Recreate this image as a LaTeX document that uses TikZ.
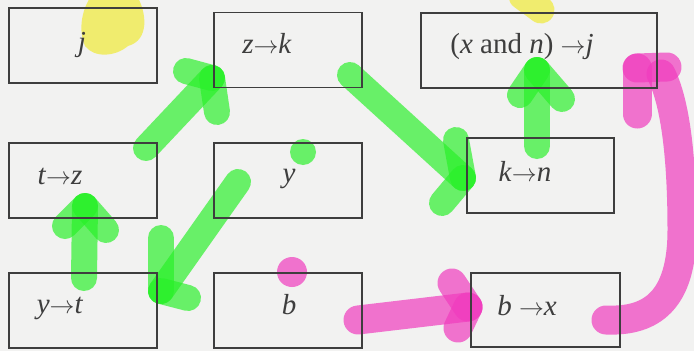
\documentclass[tikz,border=0pt]{standalone}
\usepackage{fontspec}
\setmainfont{Liberation Serif}
\newcommand{\harr}{{\fontsize{24}{28}\selectfont$\mathord{\to}$}}
\definecolor{paper}{RGB}{242,242,241}
\definecolor{ink}{RGB}{62,62,62}
\definecolor{hgreen}{RGB}{40,240,40}
\definecolor{hpink}{RGB}{240,60,190}
\definecolor{hyellow}{RGB}{240,235,60}
\begin{document}
\begin{tikzpicture}[x=1pt,y=-1pt,
  box/.style={draw=ink, line width=1.5pt, minimum width=148pt, minimum height=75pt, inner sep=0pt},
  lbl/.style={text=ink, font=\fontsize{29}{34}\selectfont, inner sep=0pt, anchor=base},
  gr/.style={draw=hgreen, opacity=0.68, line width=26pt, line cap=round},
  grdot/.style={fill=hgreen, opacity=0.68},
  pk/.style={draw=hpink, opacity=0.7, line width=29pt, line cap=round, line join=round},
  pkdot/.style={fill=hpink, opacity=0.7},
  yl/.style={hyellow, opacity=0.72},
  ]
\fill[paper] (0,0) rectangle (694,351);
\useasboundingbox (0,0) rectangle (694,351);

% ---------- highlighter strokes (named end points) ----------
% yellow
\fill[yl] (90,-2) -- (138,-2) .. controls (146,12) and (150,40) .. (128,46)
  .. controls (115,57) and (94,58) .. (85,46) .. controls (78,30) and (82,10) .. (90,-2) -- cycle;
\coordinate (y2a) at (522,-4); \coordinate (y2b) at (541,10);
\draw[yl, line width=27pt, line cap=round] (y2a) -- (y2b);

% green 1 : t->z box up to z->k
\coordinate (g1a) at (146,148); \coordinate (g1t) at (212,78);
\coordinate (g1l) at (186,71);  \coordinate (g1d) at (217,112);
\draw[gr] (g1a) -- (g1t); \draw[gr] (g1l) -- (g1t); \draw[gr] (g1t) -- (g1d);

% green 2 : z->k down to k->n
\coordinate (g2a) at (350,75); \coordinate (g2t) at (463,178);
\coordinate (g2u) at (456,140); \coordinate (g2d) at (442,203);
\draw[gr] (g2a) -- (g2t); \draw[gr] (g2u) -- (g2t); \draw[gr] (g2t) -- (g2d);

% green 3 : k->n up to (x and n)->j
\coordinate (g3a) at (537,146); \coordinate (g3t) at (537,70);
\coordinate (g3l) at (520,95);  \coordinate (g3r) at (562,99);
\draw[gr] (g3a) -- (g3t); \draw[gr] (g3l) -- (g3t); \draw[gr] (g3t) -- (g3r);

% green 4 : y->t up to t->z
\coordinate (g4a) at (84,278); \coordinate (g4t) at (85,206);
\coordinate (g4l) at (65,226); \coordinate (g4r) at (106,230);
\draw[gr] (g4a) -- (g4t); \draw[gr] (g4l) -- (g4t); \draw[gr] (g4t) -- (g4r);

% green 5 : y down to y->t
\coordinate (g5a) at (238,182); \coordinate (g5t) at (161,291);
\coordinate (g5u) at (161,238); \coordinate (g5r) at (188,298);
\draw[gr] (g5a) -- (g5t); \draw[gr] (g5u) -- (g5t); \draw[gr] (g5t) -- (g5r);

% green dot
\coordinate (g6) at (303,152);
\fill[grdot] (g6) circle (13);

% pink dot
\coordinate (p1) at (292,272);
\fill[pkdot] (p1) circle (15);

% pink 2 : b to b->x
\coordinate (p2a) at (358,320); \coordinate (p2t) at (468,307);
\coordinate (p2u) at (452,283); \coordinate (p2d) at (458,328);
\draw[pk] (p2a) -- (p2t); \draw[pk] (p2u) -- (p2t); \draw[pk] (p2t) -- (p2d);

% pink 3 : b->x round to (x and n)->j
\coordinate (p3a) at (606,320); \coordinate (p3t) at (661,74);
\coordinate (p3h) at (637,68); \coordinate (p3r) at (667,67); \coordinate (p3d) at (637,114);
\draw[pk] (p3a) .. controls (652,322) and (682,300) .. (682,230)
  .. controls (682,150) and (674,100) .. (p3t);
\draw[pk] (p3h) -- (p3r); \draw[pk] (p3h) -- (p3d);

% ---------- boxes ----------
\node[box] (bj)   at (83,45.5) {};
\node[box] (bzk)  at (288,50) {};
\node[box, minimum width=236pt] (bxnj) at (539,50.5) {};
\node[box] (btz)  at (83,180.5) {};
\node[box] (by)   at (288,180.5) {};
\node[box, minimum width=147pt] (bkn)  at (540.5,175.5) {};
\node[box] (byt)  at (83,310.5) {};
\node[box] (bb)   at (288,310.5) {};
\node[box, minimum width=149pt, minimum height=74pt] (bbx)  at (545.5,310) {};

% ---------- labels ----------
\node[lbl] (tj)   at (82,51)   {\textit{j}};
\node[lbl] (tzk)  at (267,53)  {\textit{z}\harr\textit{k}};
\node[lbl] (txnj) at (522,53)  {(\textit{x} and \textit{n}) \harr\textit{j}};
\node[lbl] (ttz)  at (60,184)  {\textit{t}\harr\textit{z}};
\node[lbl] (ty)   at (289,182) {\textit{y}};
\node[lbl] (tkn)  at (525,181) {\textit{k}\harr\textit{n}};
\node[lbl] (tyt)  at (60,313)  {\textit{y}\harr\textit{t}};
\node[lbl] (tb)   at (289,314) {\textit{b}};
\node[lbl] (tbx)  at (527,315) {\textit{b} \harr\textit{x}};
\end{tikzpicture}
\end{document}
